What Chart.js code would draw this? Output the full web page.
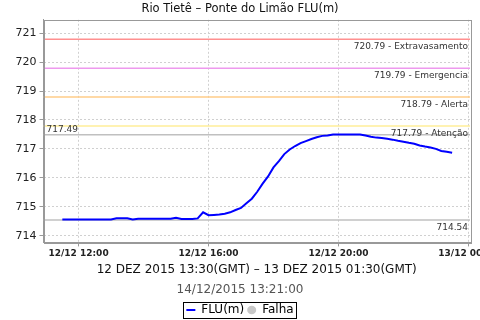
<!DOCTYPE html>
<html>
<head>
<meta charset="utf-8">
<script src="https://cdn.jsdelivr.net/npm/chart.js@4.4.1/dist/chart.umd.min.js"></script>
<style>
    html, body { margin: 0; padding: 0; background: #fff; }
    #wrap { width: 480px; height: 320px; }
</style>
</head>
<body>
<div id="wrap"><canvas id="chart"></canvas></div>
<script>
// readings every 10 minutes on 12/12 (local time)
var times = [
    "11:30", "11:40", "11:50", "12:00", "12:10", "12:20", "12:30", "12:40", "12:50", "13:00",
    "13:10", "13:20", "13:30", "13:40", "13:50", "14:00", "14:10", "14:20", "14:30", "14:40",
    "14:50", "15:00", "15:10", "15:20", "15:30", "15:40", "15:50", "16:00", "16:10", "16:20",
    "16:30", "16:40", "16:50", "17:00", "17:10", "17:20", "17:30", "17:40", "17:50", "18:00",
    "18:10", "18:20", "18:30", "18:40", "18:50", "19:00", "19:10", "19:20", "19:30", "19:40",
    "19:50", "20:00", "20:10", "20:20", "20:30", "20:40", "20:50", "21:00", "21:10", "21:20",
    "21:30", "21:40", "21:50", "22:00", "22:10", "22:20", "22:30", "22:40", "22:50", "23:00",
    "23:10", "23:20", "23:30"
];
var levels = [
    714.56, 714.56, 714.56, 714.56, 714.56, 714.56, 714.56, 714.56, 714.56, 714.56,
    714.60, 714.60, 714.60, 714.56, 714.59, 714.59, 714.59, 714.59, 714.59, 714.59,
    714.59, 714.62, 714.58, 714.58, 714.58, 714.60, 714.81, 714.71, 714.72, 714.73,
    714.76, 714.81, 714.89, 714.96, 715.12, 715.28, 715.52, 715.80, 716.05, 716.36,
    716.58, 716.82, 716.98, 717.10, 717.20, 717.27, 717.34, 717.40, 717.45, 717.46,
    717.50, 717.50, 717.50, 717.50, 717.50, 717.50, 717.46, 717.42, 717.39, 717.38,
    717.35, 717.32, 717.28, 717.25, 717.21, 717.18, 717.12, 717.08, 717.05, 717.00,
    716.93, 716.90, 716.87
];

var limitValues = [720.79, 719.79, 718.79, 717.79];
var limitNames = ["Extravasamento", "Emergencia", "Alerta", "Atenção"];
var limitColors = ["#ff9090", "#ee99ee", "#ffcc88", "#ffee99"];

var maxLevel = 717.49;
var minLevel = 714.54;

var xTickHours = [12, 16, 20, 24];
var xTickLabels = ["12/12 12:00", "12/12 16:00", "12/12 20:00", "13/12 00:00"];

var xMin = 10.92, xMax = 24.05;
var yMin = 713.77, yMax = 721.46;

Chart.defaults.font.family = "'DejaVu Sans', sans-serif";
Chart.defaults.color = "#222";

function toHours(t) {
    var p = t.split(":");
    return parseInt(p[0], 10) + parseInt(p[1], 10) / 60;
}

function flatLine(v) {
    return [{ x: xMin, y: v }, { x: xMax, y: v }];
}

var points = times.map(function (t, i) { return { x: toHours(t), y: levels[i] }; });

var datasets = [{
    label: "FLU(m)",
    data: points,
    borderColor: "#0000ff",
    borderWidth: 2,
    pointRadius: 0,
    tension: 0,
    order: 0
}];

for (var i = 0; i < limitValues.length; i++) {
    datasets.push({
        label: limitNames[i],
        data: flatLine(limitValues[i]),
        borderColor: limitColors[i],
        borderWidth: 1.5,
        pointRadius: 0,
        order: 5
    });
}
datasets.push({ label: "max", data: flatLine(maxLevel), borderColor: "#c0c0c0", borderWidth: 1.5, pointRadius: 0, order: 6 });
datasets.push({ label: "min", data: flatLine(minLevel), borderColor: "#c0c0c0", borderWidth: 1.5, pointRadius: 0, order: 6 });

// text on the limit lines
var lineLabels = {
    id: "lineLabels",
    afterDatasetsDraw: function (chart) {
        var ctx = chart.ctx, y = chart.scales.y, area = chart.chartArea;
        ctx.save();
        ctx.font = "9px 'DejaVu Sans', sans-serif";
        ctx.fillStyle = "#333";
        ctx.textBaseline = "top";
        ctx.textAlign = "right";
        for (var i = 0; i < limitValues.length; i++) {
            ctx.fillText(limitValues[i].toFixed(2) + " - " + limitNames[i], area.right - 2, y.getPixelForValue(limitValues[i]) + 3);
        }
        ctx.fillText(minLevel.toFixed(2), area.right - 2, y.getPixelForValue(minLevel) + 3);
        ctx.textAlign = "left";
        ctx.textBaseline = "bottom";
        ctx.fillText(maxLevel.toFixed(2), area.left + 3, y.getPixelForValue(maxLevel) - 1);
        ctx.restore();
    }
};

// plot frame and legend box
var frames = {
    id: "frames",
    afterDraw: function (chart) {
        var ctx = chart.ctx, a = chart.chartArea;
        ctx.save();
        ctx.strokeStyle = "#999";
        ctx.lineWidth = 1;
        ctx.strokeRect(Math.round(a.left) + 0.5, Math.round(a.top) + 0.5, Math.round(a.right - a.left), Math.round(a.bottom - a.top));
        var boxes = chart.legend.legendHitBoxes;
        if (boxes && boxes.length) {
            var l = boxes[0].left - 3;
            var r = boxes[boxes.length - 1].left + boxes[boxes.length - 1].width + 3;
            var t = boxes[0].top - 2;
            var b = Math.min(boxes[0].top + boxes[0].height + 2, chart.height - 1.5);
            ctx.strokeStyle = "#000";
            ctx.strokeRect(Math.round(l) + 0.5, Math.round(t) + 0.5, Math.round(r - l), Math.round(b - t));
        }
        ctx.restore();
    }
};

new Chart(document.getElementById("chart"), {
    type: "line",
    data: { datasets: datasets },
    plugins: [lineLabels, frames],
    options: {
        responsive: true,
        maintainAspectRatio: false,
        animation: false,
        layout: { padding: { left: 10, right: 10, top: 0, bottom: -6 } },
        plugins: {
            title: {
                display: true,
                text: "Rio Tietê – Ponte do Limão FLU(m)",
                font: { size: 11.5, weight: "normal" },
                color: "#111",
                padding: { top: 2, bottom: 4 }
            },
            subtitle: {
                display: true,
                position: "bottom",
                weight: 500,
                text: "14/12/2015 13:21:00",
                font: { size: 12 },
                color: "#555",
                padding: { top: 4, bottom: 4 }
            },
            legend: {
                position: "bottom",
                labels: {
                    usePointStyle: true,
                    pointStyleWidth: 9,
                    boxHeight: 6,
                    padding: 3,
                    color: "#000",
                    font: { size: 12 },
                    generateLabels: function () {
                        return [
                            { text: "FLU(m)", pointStyle: "line", strokeStyle: "#0000ff", fillStyle: "#0000ff", lineWidth: 2, fontColor: "#000" },
                            { text: "Falha", pointStyle: "circle", strokeStyle: "#c8c8c8", fillStyle: "#c8c8c8", lineWidth: 0, fontColor: "#000" }
                        ];
                    }
                }
            },
            tooltip: { enabled: false }
        },
        scales: {
            x: {
                type: "linear",
                min: xMin,
                max: xMax,
                afterBuildTicks: function (axis) {
                    axis.ticks = xTickHours.map(function (h) { return { value: h }; });
                },
                afterFit: function (axis) {
                    axis.paddingRight = 0;
                    axis.paddingLeft = 0;
                },
                ticks: {
                    maxRotation: 0,
                    padding: 2,
                    font: { size: 9, weight: "bold" },
                    color: "#222",
                    callback: function (v) {
                        var i = xTickHours.indexOf(v);
                        return i >= 0 ? xTickLabels[i] : "";
                    }
                },
                grid: { color: "#d0d0d0", tickColor: "#999", tickLength: 4, tickBorderDash: [] },
                border: { color: "#999", dash: [2, 2] },
                title: {
                    display: true,
                    text: "12 DEZ 2015 13:30(GMT) – 13 DEZ 2015 01:30(GMT)",
                    font: { size: 12 },
                    color: "#111",
                    padding: { top: 1, bottom: 2 }
                }
            },
            y: {
                min: yMin,
                max: yMax,
                afterBuildTicks: function (axis) {
                    var t = [];
                    for (var v = 714; v <= 721; v++) t.push({ value: v });
                    axis.ticks = t;
                },
                afterFit: function (axis) {
                    axis.width = 33.5;
                },
                ticks: {
                    padding: 3,
                    font: { size: 11 },
                    color: "#222"
                },
                grid: { color: "#d0d0d0", tickColor: "#999", tickLength: 4, tickBorderDash: [] },
                border: { color: "#999", dash: [2, 2] }
            }
        }
    }
});
</script>
</body>
</html>
